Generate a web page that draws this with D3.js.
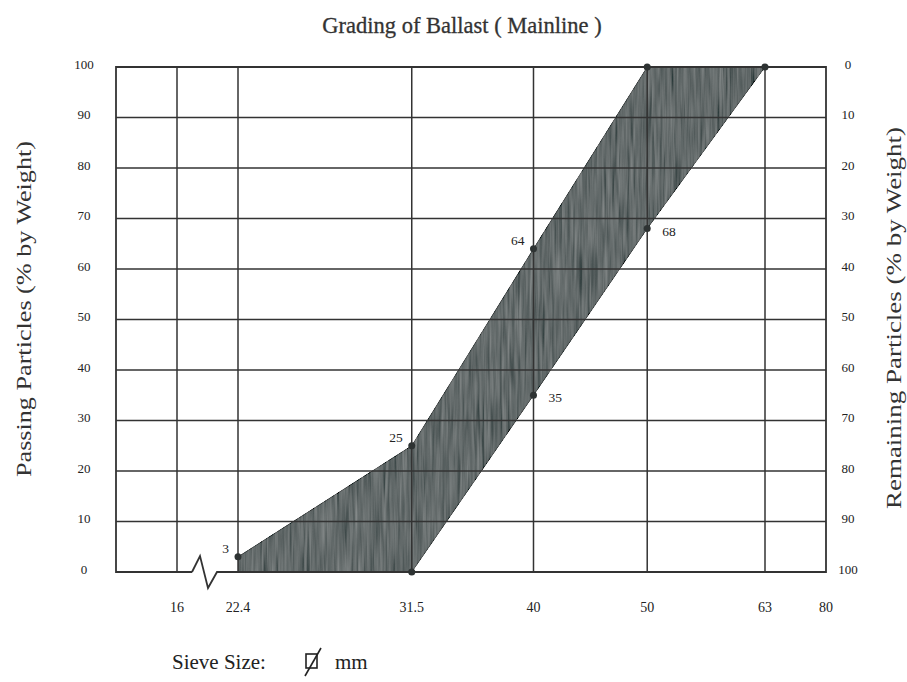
<!DOCTYPE html>
<html>
<head>
  <script src="https://cdn.jsdelivr.net/npm/d3@7"></script>
  <style>
    body { margin: 0; background: #fff; }
  </style>
</head>
<body>
  <script>

  var width = 907
  var height = 682

  // sieve sizes (mm) shown on the axis, and the grading envelope
  var sieveTicks = [16, 22.4, 31.5, 40, 50, 63, 80];
  var sieveSizes = [22.4, 31.5, 40, 50, 63];
  var upperLimit = [3, 25, 64, 100, 100];
  var lowerLimit = [0, 0, 35, 68, 100];
  var upperLabels = ["3", "25", "64", "", ""];
  var lowerLabels = ["", "", "35", "68", ""];
  var percentTicks = d3.range(0, 101, 10);

  var pLeft = 116, pRight = 826, pTop = 67, pBottom = 572, edge = 61;
  var ink = "#333";

  // log scale between 22.4 and 63, the outer columns (16, 80) are broken off
  var xLog = d3.scaleLog()
    .domain([22.4, 63])
    .range([pLeft + 2 * edge, pRight - edge]);

  function x(v) {
    if (v < 22.4) return pLeft + edge;
    if (v > 63) return pRight;
    return xLog(v);
  }

  var y = d3.scaleLinear().domain([0, 100]).range([pBottom, pTop]);
  var yRight = d3.scaleLinear().domain([100, 0]).range([pBottom, pTop]);

  var svg = d3.select('body').append("svg")
    .attr("width", width)
    .attr("height", height);

  // grainy grey fill like the printed original
  var defs = svg.append("defs");
  var f = defs.append("filter").attr("id", "grain")
    .attr("x", 0).attr("y", 0).attr("width", 1).attr("height", 1);
  f.append("feTurbulence")
    .attr("type", "fractalNoise")
    .attr("baseFrequency", "0.4 0.02")
    .attr("numOctaves", 2)
    .attr("seed", 4)
    .attr("result", "noise");
  f.append("feColorMatrix")
    .attr("in", "noise")
    .attr("type", "matrix")
    .attr("values", "0.33 0.33 0.33 0 0  0.33 0.33 0.33 0 0  0.33 0.33 0.33 0 0  0 0 0 0 1")
    .attr("result", "gray");
  f.append("feComposite")
    .attr("in", "SourceGraphic").attr("in2", "gray")
    .attr("operator", "arithmetic")
    .attr("k1", 0).attr("k2", 1).attr("k3", 0.4).attr("k4", -0.2)
    .attr("result", "mix");
  f.append("feComposite")
    .attr("in", "mix").attr("in2", "SourceGraphic")
    .attr("operator", "in");

  // envelope polygon
  var pts = sieveSizes.map(function(s, i) { return [x(s), y(upperLimit[i])]; })
    .concat(sieveSizes.map(function(s, i) { return [x(s), y(lowerLimit[i])]; }).reverse());

  svg.append("path")
    .attr("d", d3.line()(pts) + "Z")
    .attr("fill", "#646b6b")
    .attr("stroke", "#3a3f3f")
    .attr("stroke-width", 1)
    .attr("filter", "url(#grain)");

  // grid
  svg.selectAll(".hgrid")
    .data(percentTicks.slice(1, -1)).enter()
    .append("line")
    .attr("x1", pLeft).attr("x2", pRight)
    .attr("y1", function(d) { return y(d); })
    .attr("y2", function(d) { return y(d); })
    .attr("stroke", ink).attr("stroke-width", 1.5);

  svg.selectAll(".vgrid")
    .data(sieveTicks.slice(0, -1)).enter()
    .append("line")
    .attr("x1", function(d) { return x(d); })
    .attr("x2", function(d) { return x(d); })
    .attr("y1", pTop).attr("y2", pBottom)
    .attr("stroke", ink).attr("stroke-width", 1.5);

  // frame, with the break mark in the bottom edge
  var bx = x(16) + 15;
  var frame = d3.path();
  frame.moveTo(bx, pBottom);
  frame.lineTo(pLeft, pBottom);
  frame.lineTo(pLeft, pTop);
  frame.lineTo(pRight, pTop);
  frame.lineTo(pRight, pBottom);
  frame.lineTo(bx + 25, pBottom);
  frame.lineTo(bx + 16, pBottom + 16);
  frame.lineTo(bx + 8, pBottom - 16);
  frame.lineTo(bx, pBottom);
  svg.append("path")
    .attr("d", frame.toString())
    .attr("fill", "none")
    .attr("stroke", ink)
    .attr("stroke-width", 1.8)
    .attr("stroke-linejoin", "miter");

  // points
  var dots = sieveSizes.map(function(s, i) { return [s, upperLimit[i]]; })
    .concat(sieveSizes.slice(1, 4).map(function(s, i) { return [s, lowerLimit[i + 1]]; }));

  svg.selectAll(".dot")
    .data(dots).enter()
    .append("circle")
    .attr("cx", function(d) { return x(d[0]); })
    .attr("cy", function(d) { return y(d[1]); })
    .attr("r", 3.5)
    .attr("fill", "#2e3333");

  var small = "'Liberation Serif', 'Times New Roman', serif";

  svg.selectAll(".ulab")
    .data(sieveSizes).enter()
    .append("text")
    .attr("x", function(d) { return x(d) - 9; })
    .attr("y", function(d, i) { return y(upperLimit[i]) - 4; })
    .attr("text-anchor", "end")
    .attr("font-family", small).attr("font-size", 13.5)
    .attr("fill", "#222")
    .text(function(d, i) { return upperLabels[i]; });

  svg.selectAll(".llab")
    .data(sieveSizes).enter()
    .append("text")
    .attr("x", function(d) { return x(d) + 15; })
    .attr("y", function(d, i) { return y(lowerLimit[i]) + 7; })
    .attr("font-family", small).attr("font-size", 13.5)
    .attr("fill", "#222")
    .text(function(d, i) { return lowerLabels[i]; });

  // tick labels
  svg.selectAll(".ly")
    .data(percentTicks).enter()
    .append("text")
    .attr("x", 84)
    .attr("y", function(d) { return y(d) - 3; })
    .attr("dy", "0.35em")
    .attr("text-anchor", "middle")
    .attr("font-family", small).attr("font-size", 13)
    .attr("fill", "#222")
    .text(function(d) { return d; });

  svg.selectAll(".ry")
    .data(percentTicks).enter()
    .append("text")
    .attr("x", 848)
    .attr("y", function(d) { return yRight(d) - 3; })
    .attr("dy", "0.35em")
    .attr("text-anchor", "middle")
    .attr("font-family", small).attr("font-size", 13)
    .attr("fill", "#222")
    .text(function(d) { return d; });

  svg.selectAll(".xt")
    .data(sieveTicks).enter()
    .append("text")
    .attr("x", function(d) { return x(d); })
    .attr("y", 607)
    .attr("dy", "0.35em")
    .attr("text-anchor", "middle")
    .attr("font-family", small).attr("font-size", 14)
    .attr("fill", "#222")
    .text(function(d) { return d; });

  // titles
  svg.append("text")
    .attr("x", 462).attr("y", 33)
    .attr("text-anchor", "middle")
    .attr("font-family", small).attr("font-size", 22.5)
    .attr("fill", "#333")
    .attr("stroke", "#333").attr("stroke-width", 0.3)
    .text("Grading of Ballast ( Mainline )");

  svg.append("text")
    .attr("transform", "translate(31,309) rotate(-90)")
    .attr("text-anchor", "middle")
    .attr("font-family", small).attr("font-size", 22)
    .attr("textLength", 336)
    .attr("lengthAdjust", "spacingAndGlyphs")
    .attr("fill", "#333")
    .text("Passing Particles (% by Weight)");

  svg.append("text")
    .attr("transform", "translate(901,318) rotate(-90)")
    .attr("text-anchor", "middle")
    .attr("font-family", small).attr("font-size", 22)
    .attr("textLength", 382)
    .attr("lengthAdjust", "spacingAndGlyphs")
    .attr("fill", "#333")
    .text("Remaining Particles (% by Weight)");

  svg.append("text")
    .attr("x", 172).attr("y", 669)
    .attr("font-family", small).attr("font-size", 21)
    .attr("fill", "#222")
    .text("Sieve Size:");

  // diameter mark (square with a slash)
  svg.append("rect")
    .attr("x", 306).attr("y", 654).attr("width", 11).attr("height", 14)
    .attr("fill", "none").attr("stroke", "#222").attr("stroke-width", 1.6);
  svg.append("line")
    .attr("x1", 321).attr("y1", 648).attr("x2", 305).attr("y2", 676)
    .attr("stroke", "#222").attr("stroke-width", 1.6);

  svg.append("text")
    .attr("x", 335).attr("y", 669)
    .attr("font-family", small).attr("font-size", 21)
    .attr("fill", "#222")
    .text("mm");

  </script>
</body>
</html>
